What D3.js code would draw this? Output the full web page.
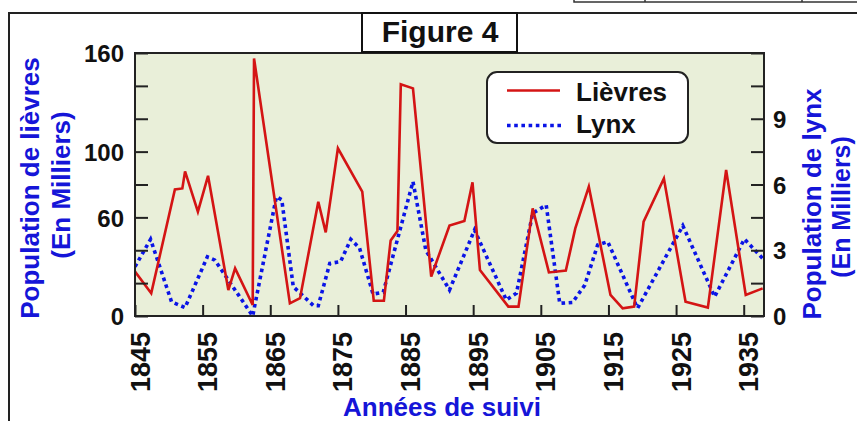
<!DOCTYPE html>
<html><head><meta charset="utf-8">
<script src="https://cdn.jsdelivr.net/npm/d3@7"></script>
<style>
body{margin:0;background:#fff;}
svg text{font-family:"Liberation Sans",Arial,sans-serif;font-weight:bold;}
</style></head>
<body>
<svg id="c" width="857" height="421"></svg>
<script>
// Hare (Lièvres, thousands) — [year, value]
const hareYears = [1845,1847.4,1850.9,1852.0,1852.4,1854.3,1855.8,1858.8,1859.8,1862.4,1862.6,1867.9,1869.4,1872.1,1873.2,1875,1878.6,1880.3,1881.8,1882.8,1883.8,1884.3,1886.1,1888.8,1891.5,1893.7,1894.9,1896,1900.2,1901.7,1903.8,1906.2,1908.7,1910.1,1912.1,1915.3,1917.1,1918.8,1920.2,1923.2,1926.4,1929.7,1932.4,1935.3,1937.8];
const hareValues = [27,13.8,77,77.6,88,63.5,85.3,15.8,29,6.7,156.7,7.7,10.8,69.5,50.9,102,75.6,9.3,9.3,46,51.7,141,138.5,24,55,57.8,81.3,28,5.7,5.7,65.5,26.5,27.6,53.3,78.7,12.8,4.7,5.7,57.4,83.7,8.7,5.1,88.8,12.8,16.8];
// Lynx (thousands)
const lynxYears = [1845,1847.3,1850.4,1852.4,1855.7,1856.8,1862.4,1865.9,1866.7,1868.4,1871.4,1872.1,1873.8,1875.4,1876.9,1878.2,1880.2,1881.7,1886.1,1888,1891.5,1895.2,1899.9,1901.4,1903.8,1905.8,1907.8,1909.7,1911.5,1913.4,1914.9,1919.3,1926,1930.7,1935.1,1937.8];
const lynxValues = [2.25,3.5,0.65,0.38,2.7,2.55,0,5.44,5.3,1.34,0.47,0.47,2.4,2.48,3.5,3.1,1.0,1.08,6.13,3.0,1.19,3.92,0.73,1.04,4.69,5.06,0.58,0.62,1.41,3.24,3.39,0.35,4.12,0.88,3.51,2.63];

const xTicks = [1845,1855,1865,1875,1885,1895,1905,1915,1925,1935];
const leftTicks = [0,20,40,60,80,100,120,140,160];
const leftLabels = [0,60,100,160];
const rightTicks = [0,1.5,3,4.5,6,7.5,9,10.5,12];
const rightLabels = [0,3,6,9];

const title = "Figure 4";
const leftTitle = ["Population de lièvres","(En Milliers)"];
const rightTitle = ["Population de lynx","(En Milliers)"];
const xTitle = "Années de suivi";
const legendNames = ["Lièvres","Lynx"];

const svg = d3.select("#c");
const L=135, R=764, T=53, B=316;
const x = d3.scaleLinear().domain([1845,1938]).range([L,R]);
const yL = d3.scaleLinear().domain([0,160]).range([B,T]);
const yR = d3.scaleLinear().domain([0,12]).range([B,T]);
const blueText = "#1515d8";

// top-right fragment
svg.append("rect").attr("x",574).attr("y",-20).attr("width",300).attr("height",22)
  .attr("fill","#fff").attr("stroke","#333").attr("stroke-width",1.5);
[645,802].forEach(v=>svg.append("line").attr("x1",v).attr("x2",v).attr("y1",-2).attr("y2",2).attr("stroke","#333").attr("stroke-width",1.5));

// outer frame
svg.append("path").attr("d","M9,421 V13 H860").attr("fill","none").attr("stroke","#222").attr("stroke-width",2);

// plot background
svg.append("rect").attr("x",L).attr("y",T).attr("width",R-L).attr("height",B-T).attr("fill","#e9efd9");

svg.append("defs").append("clipPath").attr("id","clip").append("rect")
  .attr("x",L).attr("y",T-4).attr("width",R-L).attr("height",B-T+6);

const hare = hareYears.map((d,i)=>[d,hareValues[i]]);
const lynx = lynxYears.map((d,i)=>[d,lynxValues[i]]);

const g = svg.append("g").attr("clip-path","url(#clip)");
g.append("path").datum(lynx).attr("fill","none").attr("stroke","#0a14e6")
  .attr("stroke-width",3.6).attr("stroke-dasharray","3.6,3.6")
  .attr("d",d3.line().x(d=>x(d[0])).y(d=>yR(d[1])));
g.append("path").datum(hare).attr("fill","none").attr("stroke","#d41414")
  .attr("stroke-width",2.6).attr("stroke-linejoin","miter")
  .attr("d",d3.line().x(d=>x(d[0])).y(d=>yL(d[1])));

// axes
const ax = svg.append("g").attr("transform",`translate(0,${B})`)
  .call(d3.axisBottom(x).tickValues(xTicks).tickSize(-11).tickPadding(15).tickFormat(d3.format("d")));
ax.selectAll("text").attr("transform","rotate(-90)").attr("text-anchor","end")
  .attr("x",-16).attr("y",0).attr("dy","14").attr("font-size",27).attr("fill","#111");

const al = svg.append("g").attr("transform",`translate(${L},0)`)
  .call(d3.axisLeft(yL).tickValues(leftTicks).tickSize(-13).tickPadding(11)
  .tickFormat(d=>leftLabels.includes(d)?d:""));
al.selectAll("text").attr("font-size",24).attr("fill","#111").attr("dy","0.36em");

const ar = svg.append("g").attr("transform",`translate(${R},0)`)
  .call(d3.axisRight(yR).tickValues(rightTicks).tickSize(-13).tickPadding(9)
  .tickFormat(d=>rightLabels.includes(d)?d:""));
ar.selectAll("text").attr("font-size",24).attr("fill","#111").attr("dy","0.36em");

[ax,al,ar].forEach(a=>{a.select(".domain").remove();a.selectAll("line").attr("stroke","#222").attr("stroke-width",2);});

// plot border
svg.append("rect").attr("x",L).attr("y",T).attr("width",R-L).attr("height",B-T)
  .attr("fill","none").attr("stroke","#222").attr("stroke-width",2);

// title box
svg.append("rect").attr("x",362).attr("y",13).attr("width",155).attr("height",39)
  .attr("fill","#fff").attr("stroke","#111").attr("stroke-width",2);
svg.append("text").attr("x",440).attr("y",42).attr("text-anchor","middle")
  .attr("font-size",30).attr("fill","#111").text(title);

// axis titles
svg.append("text").attr("transform","translate(39,188) rotate(-90)").attr("text-anchor","middle")
  .attr("font-size",26).attr("fill",blueText).text(leftTitle[0]);
svg.append("text").attr("transform","translate(70,185) rotate(-90)").attr("text-anchor","middle")
  .attr("font-size",26).attr("fill",blueText).text(leftTitle[1]);
svg.append("text").attr("transform","translate(821,204) rotate(-90)").attr("text-anchor","middle")
  .attr("font-size",26).attr("fill",blueText).text(rightTitle[0]);
svg.append("text").attr("transform","translate(850,207) rotate(-90)").attr("text-anchor","middle")
  .attr("font-size",25).attr("fill",blueText).text(rightTitle[1]);
svg.append("text").attr("x",442).attr("y",416).attr("text-anchor","middle")
  .attr("font-size",26).attr("fill",blueText).text(xTitle);

// legend
const lg = svg.append("g");
lg.append("rect").attr("x",487).attr("y",72).attr("width",201).attr("height",71).attr("rx",10)
  .attr("fill","#fff").attr("stroke","#222").attr("stroke-width",2);
lg.append("line").attr("x1",507).attr("x2",560).attr("y1",90.5).attr("y2",90.5)
  .attr("stroke","#d41414").attr("stroke-width",2.6);
lg.append("line").attr("x1",507).attr("x2",561).attr("y1",125.5).attr("y2",125.5)
  .attr("stroke","#0a14e6").attr("stroke-width",3.6).attr("stroke-dasharray","3.6,3.6");
lg.append("text").attr("x",576).attr("y",101).attr("font-size",26).attr("fill","#111").text(legendNames[0]);
lg.append("text").attr("x",576).attr("y",133).attr("font-size",26).attr("fill","#111").text(legendNames[1]);
</script>
</body></html>
